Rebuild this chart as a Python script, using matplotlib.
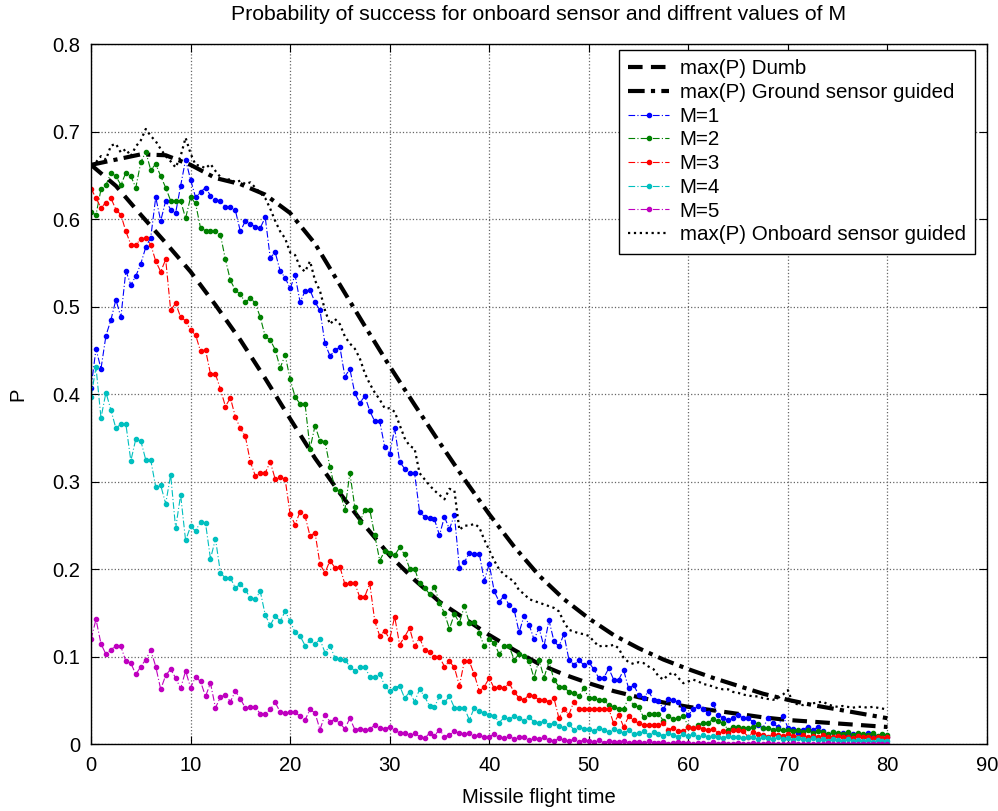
import numpy as np
import matplotlib
matplotlib.use("Agg")
from matplotlib import pyplot as plt

# flight time grid of the noisy series (step 0.5) and of the smooth curves (step 2.5)
t_fine = np.arange(0, 80.5, 0.5)
t_coarse = np.arange(0, 82.5, 2.5)

p_dumb = [0.662, 0.638, 0.605, 0.573, 0.540, 0.502, 0.462, 0.418, 0.372, 0.327,
          0.287, 0.250, 0.216, 0.188, 0.163, 0.144, 0.125, 0.108, 0.092, 0.080,
          0.070, 0.061, 0.054, 0.048, 0.043, 0.039, 0.035, 0.031, 0.028, 0.026,
          0.024, 0.022, 0.020]

p_ground = [0.662, 0.668, 0.674, 0.673, 0.662, 0.647, 0.640, 0.628, 0.607, 0.572,
            0.525, 0.478, 0.432, 0.388, 0.345, 0.303, 0.263, 0.226, 0.193, 0.166,
            0.144, 0.125, 0.110, 0.097, 0.086, 0.076, 0.067, 0.058, 0.051, 0.045,
            0.040, 0.035, 0.030]

p_m1 = [0.407, 0.452, 0.429, 0.467, 0.485, 0.508, 0.488, 0.541, 0.525, 0.535,
        0.549, 0.568, 0.579, 0.625, 0.598, 0.621, 0.611, 0.607, 0.638, 0.668,
        0.645, 0.625, 0.631, 0.636, 0.627, 0.622, 0.621, 0.614, 0.614, 0.610,
        0.586, 0.598, 0.595, 0.591, 0.590, 0.602, 0.556, 0.562, 0.541, 0.533,
        0.521, 0.536, 0.505, 0.518, 0.519, 0.505, 0.496, 0.458, 0.444, 0.450,
        0.454, 0.420, 0.429, 0.401, 0.390, 0.398, 0.381, 0.369, 0.369, 0.340,
        0.332, 0.361, 0.323, 0.315, 0.310, 0.310, 0.266, 0.260, 0.259, 0.257,
        0.239, 0.260, 0.246, 0.262, 0.202, 0.208, 0.219, 0.217, 0.218, 0.187,
        0.206, 0.175, 0.163, 0.170, 0.159, 0.154, 0.128, 0.147, 0.137, 0.120,
        0.133, 0.112, 0.142, 0.118, 0.112, 0.126, 0.097, 0.091, 0.096, 0.091,
        0.094, 0.086, 0.076, 0.076, 0.087, 0.074, 0.074, 0.085, 0.064, 0.068,
        0.057, 0.053, 0.061, 0.051, 0.050, 0.040, 0.052, 0.051, 0.048, 0.040,
        0.034, 0.040, 0.044, 0.040, 0.036, 0.046, 0.034, 0.030, 0.028, 0.030,
        0.034, 0.030, 0.030, 0.026, 0.022, 0.019, 0.030, 0.024, 0.020, 0.033,
        0.019, 0.018, 0.013, 0.017, 0.020, 0.016, 0.020, 0.015, 0.009, 0.014,
        0.012, 0.013, 0.011, 0.012, 0.011, 0.010, 0.013, 0.011, 0.009, 0.007,
        0.009]

p_m2 = [0.608, 0.605, 0.634, 0.639, 0.653, 0.649, 0.639, 0.653, 0.649, 0.636,
        0.665, 0.677, 0.656, 0.663, 0.649, 0.636, 0.621, 0.621, 0.621, 0.601,
        0.625, 0.618, 0.590, 0.587, 0.586, 0.586, 0.582, 0.554, 0.530, 0.519,
        0.514, 0.505, 0.510, 0.504, 0.488, 0.466, 0.462, 0.451, 0.430, 0.445,
        0.417, 0.397, 0.389, 0.389, 0.338, 0.364, 0.347, 0.346, 0.317, 0.292,
        0.289, 0.268, 0.310, 0.271, 0.254, 0.268, 0.268, 0.239, 0.210, 0.221,
        0.219, 0.216, 0.225, 0.217, 0.201, 0.201, 0.184, 0.179, 0.172, 0.180,
        0.162, 0.150, 0.132, 0.149, 0.139, 0.158, 0.139, 0.140, 0.127, 0.112,
        0.120, 0.116, 0.103, 0.112, 0.112, 0.097, 0.103, 0.101, 0.095, 0.076,
        0.097, 0.076, 0.095, 0.074, 0.066, 0.066, 0.060, 0.059, 0.055, 0.064,
        0.053, 0.053, 0.051, 0.051, 0.045, 0.043, 0.041, 0.041, 0.053, 0.045,
        0.043, 0.031, 0.035, 0.035, 0.035, 0.027, 0.032, 0.029, 0.030, 0.033,
        0.020, 0.019, 0.022, 0.025, 0.025, 0.029, 0.027, 0.024, 0.017, 0.020,
        0.020, 0.019, 0.019, 0.020, 0.023, 0.019, 0.019, 0.017, 0.018, 0.016,
        0.017, 0.015, 0.016, 0.014, 0.016, 0.013, 0.015, 0.014, 0.012, 0.014,
        0.013, 0.012, 0.014, 0.011, 0.013, 0.012, 0.011, 0.013, 0.010, 0.012,
        0.011]

p_m3 = [0.635, 0.624, 0.613, 0.619, 0.624, 0.611, 0.605, 0.586, 0.571, 0.571,
        0.577, 0.579, 0.571, 0.552, 0.540, 0.554, 0.496, 0.504, 0.488, 0.484,
        0.473, 0.468, 0.449, 0.451, 0.423, 0.423, 0.406, 0.386, 0.396, 0.374,
        0.361, 0.352, 0.323, 0.307, 0.310, 0.310, 0.323, 0.303, 0.305, 0.303,
        0.263, 0.251, 0.266, 0.261, 0.238, 0.242, 0.206, 0.196, 0.210, 0.202,
        0.203, 0.183, 0.184, 0.184, 0.168, 0.169, 0.184, 0.141, 0.124, 0.130,
        0.120, 0.146, 0.114, 0.123, 0.133, 0.112, 0.122, 0.108, 0.106, 0.100,
        0.100, 0.089, 0.095, 0.088, 0.067, 0.095, 0.095, 0.080, 0.061, 0.066,
        0.076, 0.064, 0.066, 0.064, 0.070, 0.060, 0.053, 0.051, 0.057, 0.055,
        0.051, 0.051, 0.049, 0.053, 0.030, 0.041, 0.034, 0.049, 0.041, 0.041,
        0.041, 0.041, 0.040, 0.040, 0.041, 0.024, 0.034, 0.020, 0.032, 0.028,
        0.024, 0.022, 0.022, 0.022, 0.022, 0.024, 0.017, 0.019, 0.015, 0.015,
        0.020, 0.019, 0.020, 0.018, 0.017, 0.018, 0.013, 0.015, 0.013, 0.016,
        0.017, 0.015, 0.009, 0.014, 0.012, 0.011, 0.009, 0.012, 0.011, 0.010,
        0.012, 0.010, 0.009, 0.011, 0.008, 0.010, 0.009, 0.011, 0.008, 0.009,
        0.010, 0.008, 0.009, 0.007, 0.010, 0.008, 0.009, 0.007, 0.008, 0.007,
        0.008]

p_m4 = [0.397, 0.431, 0.373, 0.402, 0.382, 0.361, 0.366, 0.366, 0.324, 0.349,
        0.347, 0.325, 0.325, 0.294, 0.296, 0.275, 0.308, 0.247, 0.285, 0.233,
        0.249, 0.244, 0.254, 0.253, 0.212, 0.235, 0.196, 0.190, 0.190, 0.179,
        0.183, 0.177, 0.167, 0.166, 0.175, 0.148, 0.136, 0.147, 0.141, 0.152,
        0.141, 0.128, 0.124, 0.113, 0.119, 0.115, 0.120, 0.105, 0.113, 0.099,
        0.098, 0.097, 0.089, 0.084, 0.088, 0.089, 0.077, 0.077, 0.081, 0.067,
        0.061, 0.065, 0.067, 0.053, 0.060, 0.049, 0.063, 0.055, 0.044, 0.043,
        0.055, 0.048, 0.055, 0.042, 0.042, 0.042, 0.028, 0.042, 0.038, 0.036,
        0.034, 0.033, 0.025, 0.031, 0.029, 0.032, 0.030, 0.027, 0.031, 0.026,
        0.024, 0.027, 0.022, 0.025, 0.021, 0.019, 0.023, 0.017, 0.020, 0.018,
        0.018, 0.015, 0.019, 0.017, 0.014, 0.018, 0.015, 0.013, 0.016, 0.012,
        0.013, 0.015, 0.011, 0.014, 0.012, 0.010, 0.013, 0.011, 0.009, 0.012,
        0.010, 0.012, 0.009, 0.011, 0.008, 0.010, 0.009, 0.007, 0.010, 0.008,
        0.009, 0.007, 0.009, 0.008, 0.006, 0.008, 0.007, 0.006, 0.008, 0.006,
        0.007, 0.005, 0.007, 0.006, 0.005, 0.007, 0.005, 0.006, 0.004, 0.006,
        0.005, 0.004, 0.006, 0.004, 0.005, 0.004, 0.005, 0.003, 0.005, 0.004,
        0.004]

p_m5 = [0.120, 0.143, 0.115, 0.103, 0.108, 0.113, 0.112, 0.095, 0.093, 0.080,
        0.089, 0.097, 0.108, 0.089, 0.063, 0.079, 0.086, 0.076, 0.064, 0.084,
        0.065, 0.077, 0.072, 0.055, 0.070, 0.042, 0.054, 0.057, 0.049, 0.061,
        0.052, 0.042, 0.043, 0.043, 0.035, 0.035, 0.040, 0.048, 0.037, 0.036,
        0.037, 0.037, 0.032, 0.028, 0.040, 0.036, 0.017, 0.034, 0.026, 0.029,
        0.024, 0.018, 0.030, 0.017, 0.018, 0.017, 0.018, 0.022, 0.019, 0.018,
        0.020, 0.017, 0.013, 0.013, 0.011, 0.013, 0.009, 0.007, 0.013, 0.010,
        0.017, 0.009, 0.011, 0.015, 0.013, 0.012, 0.013, 0.010, 0.011, 0.008,
        0.009, 0.012, 0.008, 0.007, 0.010, 0.006, 0.008, 0.009, 0.005, 0.007,
        0.006, 0.008, 0.005, 0.004, 0.007, 0.005, 0.004, 0.006, 0.003, 0.005,
        0.004, 0.003, 0.005, 0.002, 0.004, 0.003, 0.003, 0.004, 0.002, 0.003,
        0.003, 0.002, 0.004, 0.002, 0.002, 0.003, 0.001, 0.002, 0.003, 0.002,
        0.002, 0.001, 0.002, 0.002, 0.001, 0.003, 0.001, 0.002, 0.001, 0.001,
        0.002, 0.001, 0.001, 0.002, 0.001, 0.001, 0.002, 0.001, 0.001, 0.001,
        0.001, 0.002, 0.001, 0.001, 0.001, 0.000, 0.001, 0.001, 0.002, 0.001,
        0.001, 0.000, 0.001, 0.001, 0.000, 0.001, 0.001, 0.000, 0.001, 0.000,
        0.001]

p_onboard = [0.662, 0.665, 0.672, 0.668, 0.684, 0.686, 0.676, 0.680, 0.672, 0.683,
             0.690, 0.703, 0.695, 0.689, 0.680, 0.672, 0.666, 0.659, 0.672, 0.693,
             0.675, 0.662, 0.661, 0.658, 0.663, 0.655, 0.648, 0.644, 0.646, 0.642,
             0.644, 0.640, 0.642, 0.636, 0.630, 0.624, 0.612, 0.598, 0.586, 0.578,
             0.562, 0.559, 0.545, 0.540, 0.552, 0.530, 0.518, 0.496, 0.480, 0.486,
             0.480, 0.466, 0.458, 0.452, 0.441, 0.424, 0.412, 0.402, 0.394, 0.384,
             0.384, 0.380, 0.365, 0.350, 0.341, 0.338, 0.310, 0.303, 0.296, 0.290,
             0.285, 0.280, 0.292, 0.290, 0.245, 0.250, 0.250, 0.252, 0.248, 0.234,
             0.222, 0.210, 0.200, 0.194, 0.190, 0.186, 0.176, 0.172, 0.166, 0.164,
             0.162, 0.160, 0.158, 0.156, 0.152, 0.140, 0.131, 0.129, 0.127, 0.126,
             0.124, 0.118, 0.112, 0.113, 0.112, 0.114, 0.110, 0.099, 0.094, 0.092,
             0.094, 0.093, 0.089, 0.086, 0.078, 0.074, 0.080, 0.082, 0.076, 0.070,
             0.072, 0.074, 0.072, 0.069, 0.068, 0.066, 0.064, 0.063, 0.063, 0.060,
             0.059, 0.057, 0.056, 0.055, 0.055, 0.053, 0.052, 0.051, 0.053, 0.057,
             0.062, 0.047, 0.046, 0.045, 0.046, 0.047, 0.048, 0.049, 0.046, 0.044,
             0.043, 0.044, 0.043, 0.042, 0.043, 0.043, 0.042, 0.043, 0.042, 0.041,
             0.040]

m_series = [p_m1, p_m2, p_m3, p_m4, p_m5]
m_labels = ['M=1', 'M=2', 'M=3', 'M=4', 'M=5']
m_colors = [(0, 0, 1), (0, 0.5, 0), (1, 0, 0), (0, 0.75, 0.75), (0.75, 0, 0.75)]

x_ticks = [0, 10, 20, 30, 40, 50, 60, 70, 80, 90]
y_ticks = [0, 0.1, 0.2, 0.3, 0.4, 0.5, 0.6, 0.7, 0.8]
y_ticklabels = ['0', '0.1', '0.2', '0.3', '0.4', '0.5', '0.6', '0.7', '0.8']

plt.rcParams['font.family'] = ['Liberation Sans', 'DejaVu Sans']
fs = 14.5

fig = plt.figure(figsize=(9.98, 8.11), dpi=100)
ax = fig.add_axes([0.0912, 0.082, 0.8978, 0.8637])

ax.plot(t_coarse, p_dumb, '--', color='k', lw=3, dashes=(3.5, 2), label='max(P) Dumb')
ax.plot(t_coarse, p_ground, '-.', color='k', lw=3, dashes=(4, 1.5, 1, 1.5),
        label='max(P) Ground sensor guided')
for vals, lab, col in zip(m_series, m_labels, m_colors):
    ax.plot(t_fine, vals, '-.', color=col, lw=0.8, marker='.', markersize=6,
            dashes=(6, 2, 1, 2), label=lab)
ax.plot(t_fine, p_onboard, ':', color='k', lw=1.6, label='max(P) Onboard sensor guided')

ax.set_xlim(0, 90)
ax.set_ylim(0, 0.8)
ax.set_xticks(x_ticks)
ax.set_yticks(y_ticks)
ax.set_yticklabels(y_ticklabels)
ax.tick_params(direction='in', top=True, right=True, labelsize=fs, length=6, pad=8)
ax.grid(True, linestyle=':', color='0.4', lw=0.9)
for sp in ax.spines.values():
    sp.set_linewidth(1.0)

ax.set_title('Probability of success for onboard sensor and diffrent values of M',
             fontsize=15.3, pad=17)
ax.set_xlabel('Missile flight time', fontsize=fs, labelpad=10)
ax.set_ylabel('P', fontsize=fs, labelpad=18)

leg = ax.legend(loc='upper right', bbox_to_anchor=((975 - 91) / 896, (744.5 - 50) / 700.5),
                fontsize=14.8, frameon=True, fancybox=False, edgecolor='k', framealpha=1,
                labelspacing=0.23, handlelength=2.0, handletextpad=0.5,
                borderpad=0.45, borderaxespad=0)
leg.get_frame().set_linewidth(1.0)

fig.savefig('out.png', dpi=100)
